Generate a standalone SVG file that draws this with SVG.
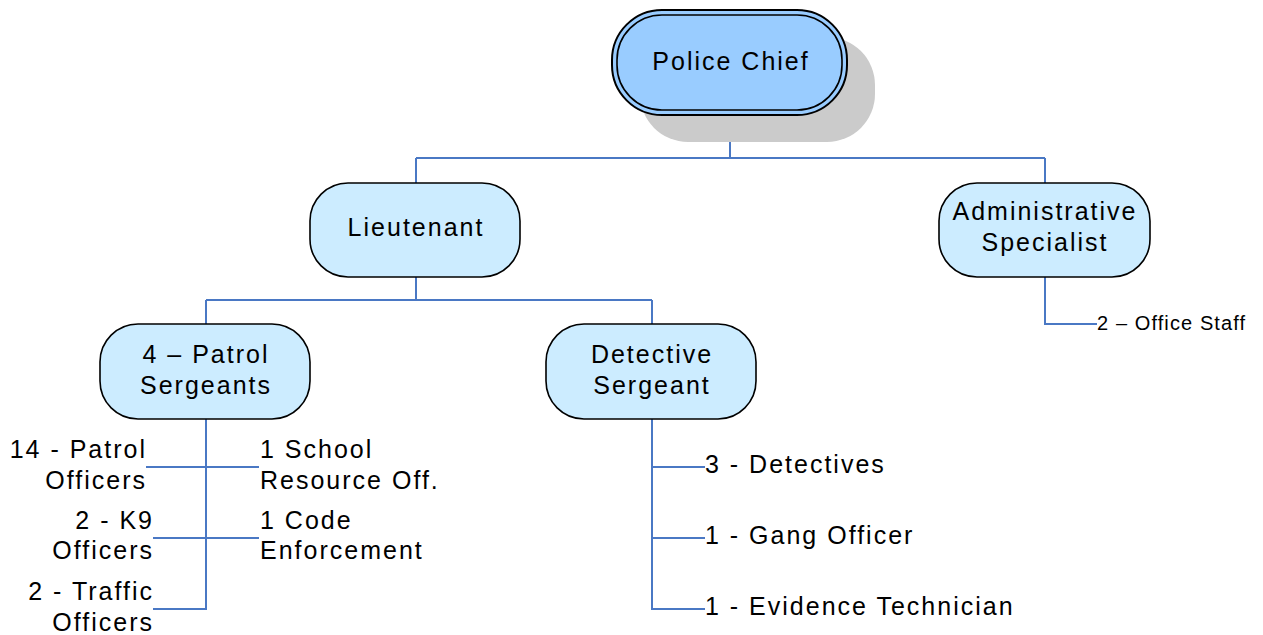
<svg xmlns="http://www.w3.org/2000/svg" width="1263" height="635" viewBox="0 0 1263 635">
<style>
.box{fill:#CCECFF;stroke:#000;stroke-width:1.6}
.t{font-family:"Liberation Sans",Arial,sans-serif;font-size:25px;letter-spacing:2px;fill:#000}
.c{text-anchor:middle}
.e{text-anchor:end}
.ln{fill:none;stroke:#4A78C4;stroke-width:2}
</style>
<rect width="1263" height="635" fill="#fff"/>
<g id="connectors">
<path class="ln" d="M730 115V158M416 158H1045M416 158V183M1045 158V183"/>
<path class="ln" d="M416 277V300M206 300H652M206 300V324M652 300V324"/>
<path class="ln" d="M1045 277V324H1097"/>
<path class="ln" d="M206 419V609H153M146 467H259M153 538H259"/>
<path class="ln" d="M652 419V609H705M652 467H705M652 538H705"/>
</g>
<g id="chief">
<rect x="640" y="37" width="235" height="105" rx="48" fill="#CBCBCB"/>
<rect x="612" y="10" width="235" height="105" rx="50" fill="#99CCFF" stroke="#000" stroke-width="2"/>
<rect x="617" y="15" width="225" height="95" rx="45" fill="none" stroke="#000" stroke-width="1.6"/>
<text class="t c" x="731" y="70">Police Chief</text>
</g>
<g id="lieutenant">
<rect class="box" x="310" y="183" width="210" height="94" rx="38"/>
<text class="t c" x="416" y="236">Lieutenant</text>
</g>
<g id="admin">
<rect class="box" x="939" y="183" width="211" height="94" rx="38"/>
<text class="t c" x="1045" y="220">Administrative</text>
<text class="t c" x="1045" y="251">Specialist</text>
</g>
<g id="patrol-sergeants">
<rect class="box" x="100" y="324" width="210" height="95" rx="38"/>
<text class="t c" x="206" y="363">4 – Patrol</text>
<text class="t c" x="206" y="394">Sergeants</text>
</g>
<g id="detective-sergeant">
<rect class="box" x="546" y="324" width="210" height="95" rx="38"/>
<text class="t c" x="652" y="363">Detective</text>
<text class="t c" x="652" y="394">Sergeant</text>
</g>
<g id="office-staff">
<text class="t" x="1097" y="330" style="font-size:20px;letter-spacing:1.1px">2 – Office Staff</text>
</g>
<g id="patrol-officers">
<text class="t e" x="147" y="458">14 - Patrol</text>
<text class="t e" x="147" y="489">Officers</text>
</g>
<g id="k9-officers">
<text class="t e" x="154" y="529">2 - K9</text>
<text class="t e" x="154" y="559">Officers</text>
</g>
<g id="traffic-officers">
<text class="t e" x="154" y="600">2 - Traffic</text>
<text class="t e" x="154" y="631">Officers</text>
</g>
<g id="school-resource">
<text class="t" x="260" y="458">1 School</text>
<text class="t" x="260" y="489">Resource Off.</text>
</g>
<g id="code-enforcement">
<text class="t" x="260" y="529">1 Code</text>
<text class="t" x="260" y="559">Enforcement</text>
</g>
<g id="detectives">
<text class="t" x="705" y="473">3 - Detectives</text>
</g>
<g id="gang-officer">
<text class="t" x="705" y="544">1 - Gang Officer</text>
</g>
<g id="evidence-tech">
<text class="t" x="705" y="615">1 - Evidence Technician</text>
</g>
</svg>
